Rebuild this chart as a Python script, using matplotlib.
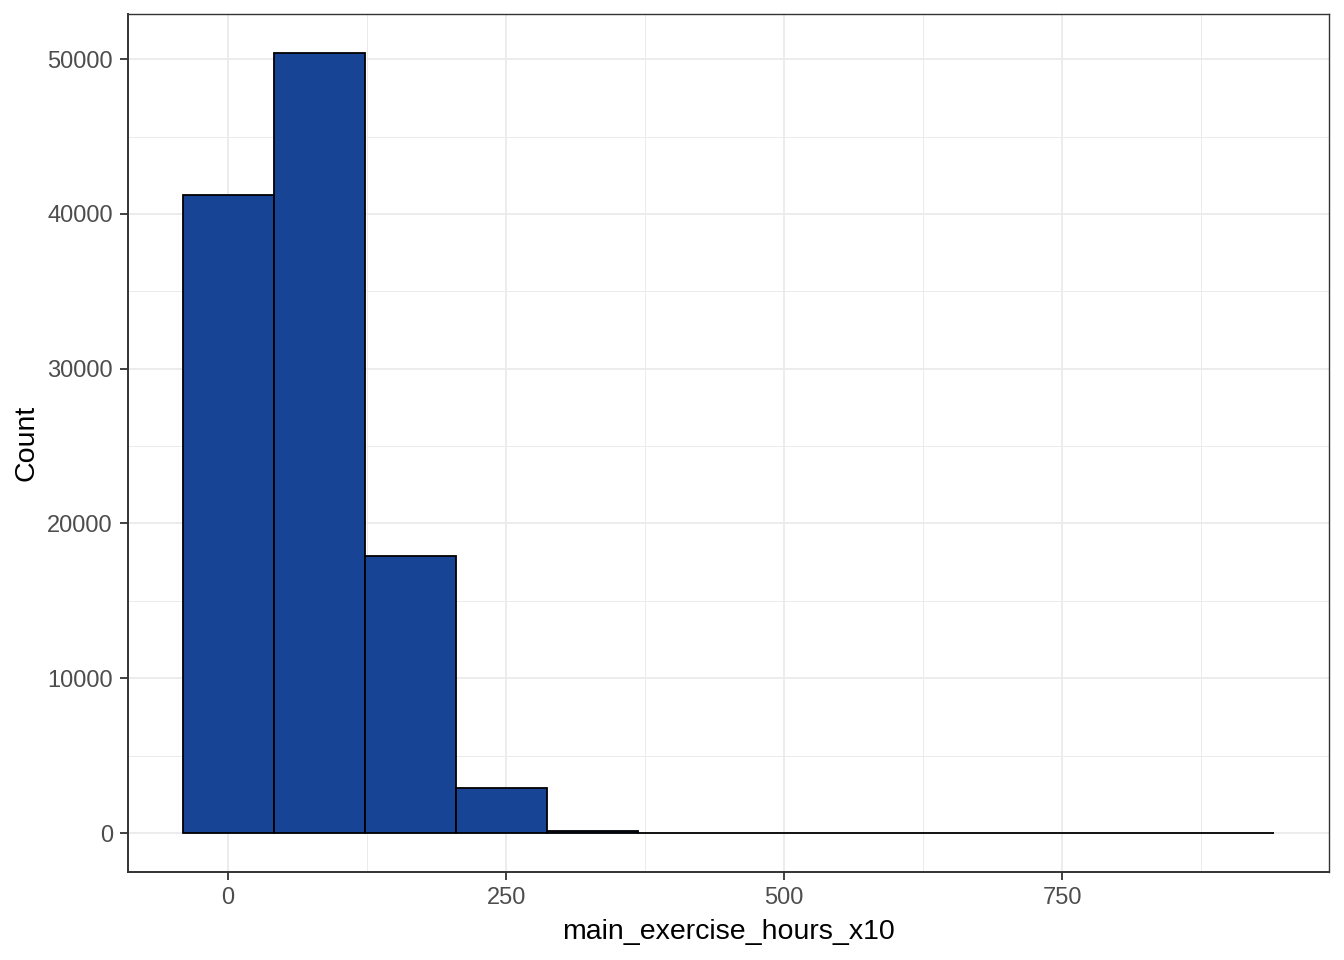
import matplotlib
matplotlib.use("Agg")
import matplotlib.pyplot as plt
import numpy as np
from matplotlib.ticker import MultipleLocator

# histogram of main_exercise_hours_x10 (12 bins, centred on multiples of the bin width)
BIN_WIDTH = 81.8
bin_centers = [i * BIN_WIDTH for i in range(12)]
counts = [41250, 50400, 17930, 2900, 150, 25, 10, 6, 4, 3, 2, 2]

x_ticks = [0, 250, 500, 750]
y_ticks = [0, 10000, 20000, 30000, 40000, 50000]

plt.rcParams['font.family'] = ['Liberation Sans', 'DejaVu Sans']

fig = plt.figure(figsize=(13.44, 9.6), dpi=100)
ax = fig.add_axes([128 / 1344, 1 - 872 / 960, (1329 - 128) / 1344, (872 - 14) / 960])

ax.bar(bin_centers, counts, width=BIN_WIDTH, color='#184496',
       edgecolor='black', linewidth=1.3, zorder=3)

# ggplot-like 5% expansion
lo, hi = bin_centers[0] - BIN_WIDTH / 2, bin_centers[-1] + BIN_WIDTH / 2
ax.set_xlim(lo - 0.05 * (hi - lo), hi + 0.05 * (hi - lo))
ymax = max(counts)
ax.set_ylim(-0.05 * ymax, ymax * 1.05)

ax.set_xticks(x_ticks)
ax.set_yticks(y_ticks)
ax.xaxis.set_minor_locator(MultipleLocator(125))
ax.yaxis.set_minor_locator(MultipleLocator(5000))
ax.grid(which='major', color='#EBEBEB', linewidth=1.3, zorder=0)
ax.grid(which='minor', color='#EBEBEB', linewidth=0.7, zorder=0)
ax.set_axisbelow(True)

for side in ['top', 'right']:
    ax.spines[side].set_color('#333333')
    ax.spines[side].set_linewidth(1.0)
for side in ['left', 'bottom']:
    ax.spines[side].set_color('#333333')
    ax.spines[side].set_linewidth(1.4)

ax.tick_params(which='major', length=5.8, width=1.3, color='#333333',
               labelsize=17, labelcolor='#4D4D4D', pad=5)
ax.tick_params(which='minor', length=0)

ax.set_xlabel('main_exercise_hours_x10', fontsize=20.5, color='black', labelpad=7)
ax.set_ylabel('Count', fontsize=20.5, color='black', labelpad=6)

fig.savefig('out.png', dpi=100)
